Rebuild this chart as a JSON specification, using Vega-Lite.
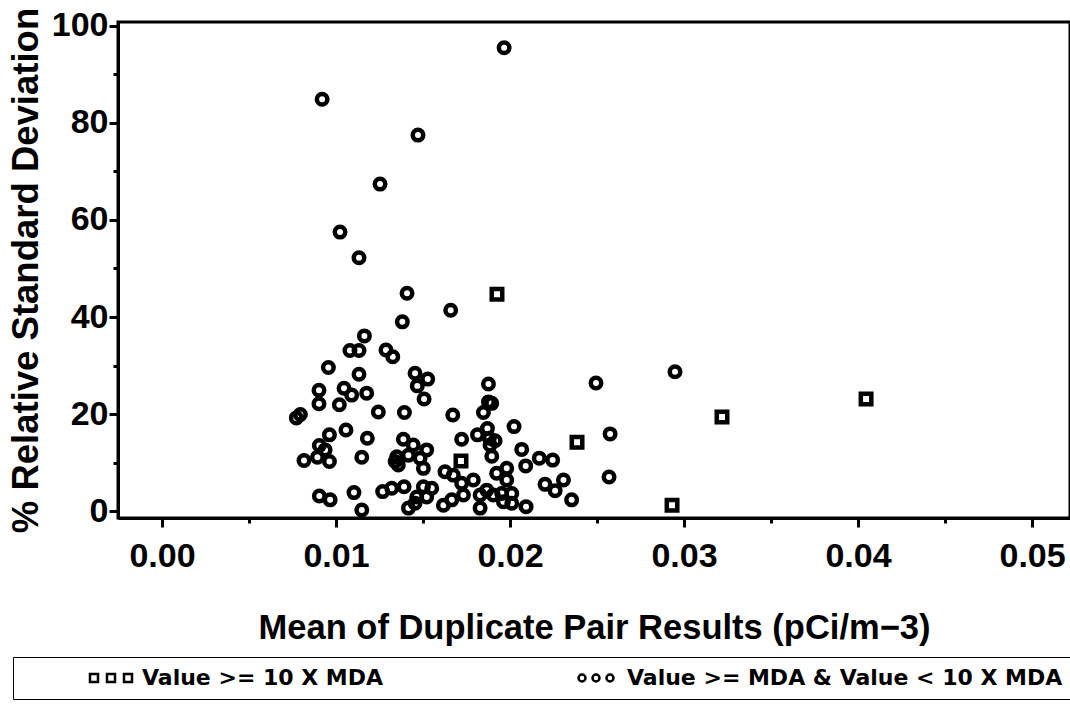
{
  "$schema": "https://vega.github.io/schema/vega-lite/v6.json",
  "width": 952,
  "height": 496,
  "autosize": {"type": "none"},
  "padding": {"left": 118, "top": 22, "right": 0, "bottom": 187},
  "background": "white",
  "config": {
    "view": {"stroke": "black", "strokeWidth": 3},
    "font": "Liberation Sans",
    "axis": {
      "domainColor": "black", "domainWidth": 3, "tickColor": "black", "tickWidth": 3,
      "labelFont": "Liberation Sans", "labelFontWeight": "bold", "labelFontSize": 34, "labelColor": "black",
      "titleFont": "Liberation Sans", "titleFontWeight": "bold", "titleColor": "black", "grid": false
    }
  },
  "data": {"values": [
    {"mean": 0.01925, "rsd": 44.7, "type": "Value >= 10 X MDA"},
    {"mean": 0.02385, "rsd": 14.2, "type": "Value >= 10 X MDA"},
    {"mean": 0.03218, "rsd": 19.4, "type": "Value >= 10 X MDA"},
    {"mean": 0.04046, "rsd": 23.1, "type": "Value >= 10 X MDA"},
    {"mean": 0.02931, "rsd": 1.2, "type": "Value >= 10 X MDA"},
    {"mean": 0.01718, "rsd": 10.3, "type": "Value >= 10 X MDA"},
    {"mean": 0.01966, "rsd": 95.5, "type": "Value >= MDA & Value < 10 X MDA"},
    {"mean": 0.00920, "rsd": 84.9, "type": "Value >= MDA & Value < 10 X MDA"},
    {"mean": 0.01471, "rsd": 77.5, "type": "Value >= MDA & Value < 10 X MDA"},
    {"mean": 0.01253, "rsd": 67.4, "type": "Value >= MDA & Value < 10 X MDA"},
    {"mean": 0.01023, "rsd": 57.5, "type": "Value >= MDA & Value < 10 X MDA"},
    {"mean": 0.01132, "rsd": 52.2, "type": "Value >= MDA & Value < 10 X MDA"},
    {"mean": 0.01408, "rsd": 44.9, "type": "Value >= MDA & Value < 10 X MDA"},
    {"mean": 0.02948, "rsd": 28.7, "type": "Value >= MDA & Value < 10 X MDA"},
    {"mean": 0.02494, "rsd": 26.4, "type": "Value >= MDA & Value < 10 X MDA"},
    {"mean": 0.02575, "rsd": 15.9, "type": "Value >= MDA & Value < 10 X MDA"},
    {"mean": 0.02569, "rsd": 7.0, "type": "Value >= MDA & Value < 10 X MDA"},
    {"mean": 0.01659, "rsd": 41.4, "type": "Value >= MDA & Value < 10 X MDA"},
    {"mean": 0.01381, "rsd": 39.0, "type": "Value >= MDA & Value < 10 X MDA"},
    {"mean": 0.01163, "rsd": 36.1, "type": "Value >= MDA & Value < 10 X MDA"},
    {"mean": 0.01080, "rsd": 33.1, "type": "Value >= MDA & Value < 10 X MDA"},
    {"mean": 0.01132, "rsd": 33.1, "type": "Value >= MDA & Value < 10 X MDA"},
    {"mean": 0.01287, "rsd": 33.2, "type": "Value >= MDA & Value < 10 X MDA"},
    {"mean": 0.01326, "rsd": 31.8, "type": "Value >= MDA & Value < 10 X MDA"},
    {"mean": 0.00956, "rsd": 29.6, "type": "Value >= MDA & Value < 10 X MDA"},
    {"mean": 0.01132, "rsd": 28.2, "type": "Value >= MDA & Value < 10 X MDA"},
    {"mean": 0.01454, "rsd": 28.4, "type": "Value >= MDA & Value < 10 X MDA"},
    {"mean": 0.01527, "rsd": 27.2, "type": "Value >= MDA & Value < 10 X MDA"},
    {"mean": 0.01467, "rsd": 25.8, "type": "Value >= MDA & Value < 10 X MDA"},
    {"mean": 0.00902, "rsd": 24.9, "type": "Value >= MDA & Value < 10 X MDA"},
    {"mean": 0.01046, "rsd": 25.3, "type": "Value >= MDA & Value < 10 X MDA"},
    {"mean": 0.01090, "rsd": 23.9, "type": "Value >= MDA & Value < 10 X MDA"},
    {"mean": 0.01176, "rsd": 24.3, "type": "Value >= MDA & Value < 10 X MDA"},
    {"mean": 0.01506, "rsd": 23.1, "type": "Value >= MDA & Value < 10 X MDA"},
    {"mean": 0.00902, "rsd": 22.1, "type": "Value >= MDA & Value < 10 X MDA"},
    {"mean": 0.01019, "rsd": 21.9, "type": "Value >= MDA & Value < 10 X MDA"},
    {"mean": 0.00772, "rsd": 19.2, "type": "Value >= MDA & Value < 10 X MDA"},
    {"mean": 0.00795, "rsd": 19.9, "type": "Value >= MDA & Value < 10 X MDA"},
    {"mean": 0.01243, "rsd": 20.4, "type": "Value >= MDA & Value < 10 X MDA"},
    {"mean": 0.01393, "rsd": 20.3, "type": "Value >= MDA & Value < 10 X MDA"},
    {"mean": 0.01671, "rsd": 19.8, "type": "Value >= MDA & Value < 10 X MDA"},
    {"mean": 0.01057, "rsd": 16.7, "type": "Value >= MDA & Value < 10 X MDA"},
    {"mean": 0.00962, "rsd": 15.7, "type": "Value >= MDA & Value < 10 X MDA"},
    {"mean": 0.00904, "rsd": 13.5, "type": "Value >= MDA & Value < 10 X MDA"},
    {"mean": 0.00937, "rsd": 12.6, "type": "Value >= MDA & Value < 10 X MDA"},
    {"mean": 0.01180, "rsd": 15.0, "type": "Value >= MDA & Value < 10 X MDA"},
    {"mean": 0.01387, "rsd": 14.8, "type": "Value >= MDA & Value < 10 X MDA"},
    {"mean": 0.01444, "rsd": 13.6, "type": "Value >= MDA & Value < 10 X MDA"},
    {"mean": 0.01521, "rsd": 12.6, "type": "Value >= MDA & Value < 10 X MDA"},
    {"mean": 0.01349, "rsd": 11.2, "type": "Value >= MDA & Value < 10 X MDA"},
    {"mean": 0.01416, "rsd": 11.5, "type": "Value >= MDA & Value < 10 X MDA"},
    {"mean": 0.01358, "rsd": 9.5, "type": "Value >= MDA & Value < 10 X MDA"},
    {"mean": 0.01340, "rsd": 10.2, "type": "Value >= MDA & Value < 10 X MDA"},
    {"mean": 0.01483, "rsd": 10.9, "type": "Value >= MDA & Value < 10 X MDA"},
    {"mean": 0.01502, "rsd": 8.8, "type": "Value >= MDA & Value < 10 X MDA"},
    {"mean": 0.00816, "rsd": 10.4, "type": "Value >= MDA & Value < 10 X MDA"},
    {"mean": 0.00893, "rsd": 11.1, "type": "Value >= MDA & Value < 10 X MDA"},
    {"mean": 0.00962, "rsd": 10.2, "type": "Value >= MDA & Value < 10 X MDA"},
    {"mean": 0.01148, "rsd": 11.1, "type": "Value >= MDA & Value < 10 X MDA"},
    {"mean": 0.01626, "rsd": 8.1, "type": "Value >= MDA & Value < 10 X MDA"},
    {"mean": 0.01674, "rsd": 7.4, "type": "Value >= MDA & Value < 10 X MDA"},
    {"mean": 0.00904, "rsd": 3.1, "type": "Value >= MDA & Value < 10 X MDA"},
    {"mean": 0.00966, "rsd": 2.3, "type": "Value >= MDA & Value < 10 X MDA"},
    {"mean": 0.01103, "rsd": 3.8, "type": "Value >= MDA & Value < 10 X MDA"},
    {"mean": 0.01148, "rsd": 0.2, "type": "Value >= MDA & Value < 10 X MDA"},
    {"mean": 0.01268, "rsd": 4.0, "type": "Value >= MDA & Value < 10 X MDA"},
    {"mean": 0.01320, "rsd": 4.7, "type": "Value >= MDA & Value < 10 X MDA"},
    {"mean": 0.01391, "rsd": 5.0, "type": "Value >= MDA & Value < 10 X MDA"},
    {"mean": 0.01502, "rsd": 5.0, "type": "Value >= MDA & Value < 10 X MDA"},
    {"mean": 0.01550, "rsd": 4.7, "type": "Value >= MDA & Value < 10 X MDA"},
    {"mean": 0.01464, "rsd": 2.9, "type": "Value >= MDA & Value < 10 X MDA"},
    {"mean": 0.01521, "rsd": 2.9, "type": "Value >= MDA & Value < 10 X MDA"},
    {"mean": 0.01416, "rsd": 0.6, "type": "Value >= MDA & Value < 10 X MDA"},
    {"mean": 0.01454, "rsd": 1.6, "type": "Value >= MDA & Value < 10 X MDA"},
    {"mean": 0.01617, "rsd": 1.2, "type": "Value >= MDA & Value < 10 X MDA"},
    {"mean": 0.01665, "rsd": 2.3, "type": "Value >= MDA & Value < 10 X MDA"},
    {"mean": 0.01876, "rsd": 26.2, "type": "Value >= MDA & Value < 10 X MDA"},
    {"mean": 0.01876, "rsd": 22.5, "type": "Value >= MDA & Value < 10 X MDA"},
    {"mean": 0.01895, "rsd": 22.2, "type": "Value >= MDA & Value < 10 X MDA"},
    {"mean": 0.01847, "rsd": 20.3, "type": "Value >= MDA & Value < 10 X MDA"},
    {"mean": 0.02023, "rsd": 17.4, "type": "Value >= MDA & Value < 10 X MDA"},
    {"mean": 0.01870, "rsd": 17.0, "type": "Value >= MDA & Value < 10 X MDA"},
    {"mean": 0.01813, "rsd": 15.7, "type": "Value >= MDA & Value < 10 X MDA"},
    {"mean": 0.01722, "rsd": 14.8, "type": "Value >= MDA & Value < 10 X MDA"},
    {"mean": 0.01881, "rsd": 15.0, "type": "Value >= MDA & Value < 10 X MDA"},
    {"mean": 0.01914, "rsd": 14.5, "type": "Value >= MDA & Value < 10 X MDA"},
    {"mean": 0.01885, "rsd": 13.6, "type": "Value >= MDA & Value < 10 X MDA"},
    {"mean": 0.01895, "rsd": 11.3, "type": "Value >= MDA & Value < 10 X MDA"},
    {"mean": 0.02067, "rsd": 12.7, "type": "Value >= MDA & Value < 10 X MDA"},
    {"mean": 0.02168, "rsd": 10.9, "type": "Value >= MDA & Value < 10 X MDA"},
    {"mean": 0.02245, "rsd": 10.5, "type": "Value >= MDA & Value < 10 X MDA"},
    {"mean": 0.02090, "rsd": 9.3, "type": "Value >= MDA & Value < 10 X MDA"},
    {"mean": 0.01981, "rsd": 8.8, "type": "Value >= MDA & Value < 10 X MDA"},
    {"mean": 0.01923, "rsd": 7.8, "type": "Value >= MDA & Value < 10 X MDA"},
    {"mean": 0.01981, "rsd": 6.4, "type": "Value >= MDA & Value < 10 X MDA"},
    {"mean": 0.02201, "rsd": 5.5, "type": "Value >= MDA & Value < 10 X MDA"},
    {"mean": 0.02307, "rsd": 6.4, "type": "Value >= MDA & Value < 10 X MDA"},
    {"mean": 0.02259, "rsd": 4.2, "type": "Value >= MDA & Value < 10 X MDA"},
    {"mean": 0.02354, "rsd": 2.3, "type": "Value >= MDA & Value < 10 X MDA"},
    {"mean": 0.01722, "rsd": 5.7, "type": "Value >= MDA & Value < 10 X MDA"},
    {"mean": 0.01789, "rsd": 6.4, "type": "Value >= MDA & Value < 10 X MDA"},
    {"mean": 0.01732, "rsd": 3.3, "type": "Value >= MDA & Value < 10 X MDA"},
    {"mean": 0.01828, "rsd": 3.3, "type": "Value >= MDA & Value < 10 X MDA"},
    {"mean": 0.01866, "rsd": 4.3, "type": "Value >= MDA & Value < 10 X MDA"},
    {"mean": 0.01904, "rsd": 3.3, "type": "Value >= MDA & Value < 10 X MDA"},
    {"mean": 0.01952, "rsd": 3.6, "type": "Value >= MDA & Value < 10 X MDA"},
    {"mean": 0.02010, "rsd": 3.6, "type": "Value >= MDA & Value < 10 X MDA"},
    {"mean": 0.01962, "rsd": 1.9, "type": "Value >= MDA & Value < 10 X MDA"},
    {"mean": 0.02010, "rsd": 1.6, "type": "Value >= MDA & Value < 10 X MDA"},
    {"mean": 0.01828, "rsd": 0.6, "type": "Value >= MDA & Value < 10 X MDA"},
    {"mean": 0.02092, "rsd": 0.9, "type": "Value >= MDA & Value < 10 X MDA"}
  ]},
  "encoding": {
    "x": {
      "field": "mean", "type": "quantitative",
      "scale": {"domain": [-0.00253, 0.05218], "nice": false, "zero": false},
      "axis": {
        "title": "Mean of Duplicate Pair Results (pCi/m\u22123)",
        "titleFontSize": 34.5, "titlePadding": 38,
        "values": [0, 0.005, 0.01, 0.015, 0.02, 0.025, 0.03, 0.035, 0.04, 0.045, 0.05],
        "format": ".2f",
        "labelExpr": "round(datum.value * 1000) % 10 === 0 ? datum.label : ''",
        "tickSize": {"condition": {"test": "round(datum.value * 1000) % 10 === 0", "value": 9}, "value": 5},
        "labelPadding": 12, "labelOverlap": false, "labelFlush": false
      }
    },
    "y": {
      "field": "rsd", "type": "quantitative",
      "scale": {"domain": [-1.44, 100.82], "nice": false, "zero": false},
      "axis": {
        "title": "% Relative Standard Deviation",
        "titleFontSize": 36.5, "titlePadding": 6,
        "values": [0, 10, 20, 30, 40, 50, 60, 70, 80, 90, 100],
        "labelExpr": "datum.value % 20 === 0 ? datum.label : ''",
        "tickSize": {"condition": {"test": "datum.value % 20 === 0", "value": 9}, "value": 5},
        "labelPadding": 1, "labelOverlap": false, "labelFlush": false
      }
    }
  },
  "layer": [
    {
      "mark": {"type": "point", "filled": false, "stroke": "black", "strokeWidth": 4.5, "size": 110, "opacity": 1},
      "encoding": {
        "shape": {
          "field": "type", "type": "nominal",
          "scale": {"domain": ["Value >= 10 X MDA", "Value >= MDA & Value < 10 X MDA"], "range": ["square", "circle"]},
          "legend": null
        }
      }
    },
    {
      "mark": {"type": "point", "filled": false, "stroke": "black", "strokeWidth": 2, "opacity": 0},
      "encoding": {
        "shape": {
          "field": "type", "type": "nominal",
          "scale": {
            "domain": ["Value >= 10 X MDA", "Value >= MDA & Value < 10 X MDA"],
            "range": [
              "M-5.25,-1H-3.25V1H-5.25Z M-1,-1H1V1H-1Z M3.25,-1H5.25V1H3.25Z",
              "M-4.375,0A0.875,0.875 0 1,0 -2.625,0A0.875,0.875 0 1,0 -4.375,0Z M-0.875,0A0.875,0.875 0 1,0 0.875,0A0.875,0.875 0 1,0 -0.875,0Z M2.625,0A0.875,0.875 0 1,0 4.375,0A0.875,0.875 0 1,0 2.625,0Z"
            ]
          },
          "legend": {
            "title": null,
            "orient": "none", "legendX": -105, "legendY": 635,
            "direction": "horizontal", "columns": 2,
            "padding": 10, "strokeColor": "black",
            "symbolSize": 64, "symbolStrokeWidth": 2.5, "symbolStrokeColor": "black", "symbolOpacity": 1,
            "symbolOffset": 77, "labelOffset": 20, "columnPadding": 124,
            "labelFont": "DejaVu Sans", "labelFontWeight": "bold", "labelFontSize": 22, "labelColor": "black", "labelLimit": 700
          }
        }
      }
    }
  ],
  "resolve": {"scale": {"shape": "independent"}, "legend": {"shape": "independent"}}
}
